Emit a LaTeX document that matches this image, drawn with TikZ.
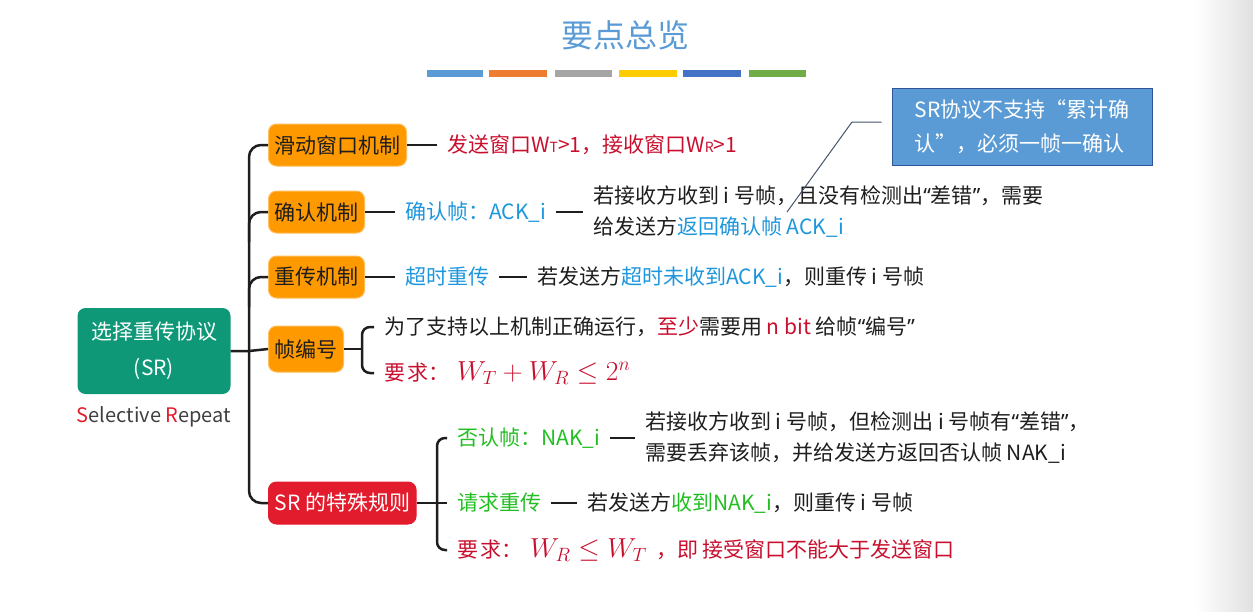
\documentclass[tikz,border=0pt]{standalone}
\usepackage{fix-cm}
\usepackage{fontspec}
\setmainfont{Noto Sans CJK SC}
\newfontfamily\latinq{Noto Sans}
\usepackage{tikz}

\definecolor{titleblue}{RGB}{91,155,213}
\definecolor{barorange}{RGB}{237,125,49}
\definecolor{bargray}{RGB}{165,165,165}
\definecolor{baryellow}{RGB}{255,204,0}
\definecolor{bardarkblue}{RGB}{68,114,196}
\definecolor{bargreen}{RGB}{112,173,71}
\definecolor{rootgreen}{RGB}{14,152,120}
\definecolor{branchorange}{RGB}{255,153,0}
\definecolor{branchrim}{RGB}{255,190,90}
\definecolor{srred}{RGB}{226,28,44}
\definecolor{textred}{RGB}{200,16,46}
\definecolor{textblue}{RGB}{30,150,220}
\definecolor{textgreen}{RGB}{34,190,34}
\definecolor{textdark}{RGB}{30,30,30}
\definecolor{calloutblue}{RGB}{91,155,213}
\definecolor{calloutrim}{RGB}{47,85,151}
\definecolor{pointer}{RGB}{68,84,106}

\newcommand{\fs}[2]{\fontsize{#1}{#2}\selectfont}
\newcommand{\oq}{{\latinq “}}
\newcommand{\cq}{{\latinq ”}}
\newcommand{\bigmath}[1]{{\fs{27.5}{31}$#1$}}
\newcommand{\yaoqiu}{要\hspace{2pt}求：\hspace{8pt}}

\begin{document}
\begin{tikzpicture}[x=1pt,y=-1pt,
    branch/.style={draw=branchrim, line width=1pt, fill=branchorange, rounded corners=8pt,
        minimum height=42pt, inner xsep=6pt, anchor=west, text=textdark, font=\fs{21}{30}},
    leaf/.style={anchor=west, inner xsep=10pt, inner ysep=2pt, align=left, text=textdark, font=\fs{21}{31}},
    link/.style={line width=2.5pt, textdark}]
        \useasboundingbox (0,0) rectangle (1253,611);
        \shade[left color=white, right color=black!12] (1195,0) rectangle (1253,611);

        % Title
        \node[text=titleblue, font=\fs{32}{36}] (title) at (625,35) {要点总览};
        \foreach \xa/\xb/\c in {427/483/titleblue, 489/547/barorange, 555/612/bargray,
                                619/677/baryellow, 683/741/bardarkblue, 749/806/bargreen}
            \fill[\c] (\xa,70) rectangle (\xb,77);

        % Root
        \node[fill=rootgreen, rounded corners=8pt, minimum width=153pt, minimum height=86pt,
              text=white, align=center, font=\fs{21}{36}] (root) at (154,351) {选择重传协议\\(SR)};
        \node[text=textdark!85, font=\fs{20}{24}] (sr) at (154,417)
            {{\color{srred}S}elective {\color{srred}R}epeat};

        % Branches
        \node[branch] (b1) at (268,145) {滑动窗口机制};
        \node[branch] (b2) at (268,212) {确认机制};
        \node[branch] (b3) at (268,277) {重传机制};
        \node[branch, minimum height=46pt] (b4) at (268,349) {帧编号};
        \node[branch, fill=srred, draw=srred, text=white] (b5) at (268,503) {SR 的特殊规则};

        % Leaves
        \node[leaf, text=textred] (l1) at (437,145)
            {发送窗口W{\fs{14}{14}T}>1，接收窗口W{\fs{14}{14}R}>1};
        \node[leaf, text=textblue] (l2a) at (395,212) {确认帧：ACK\_i};
        \node[leaf] (l2b) at (583,212)
            {若接收方收到 i 号帧，且没有检测出\oq 差错\cq，需要\\给发送方{\color{textblue}返回确认帧 ACK\_i}};
        \node[leaf, text=textblue] (l3a) at (395,277) {超时重传};
        \node[leaf] (l3b) at (527,277)
            {若发送方{\color{textblue}超时未收到ACK\_i}，则重传 i 号帧};
        \node[leaf] (l4a) at (374,327)
            {为了支持以上机制正确运行，{\color{textred}至少}需要用 {\color{textred}n bit} 给帧\oq 编号\cq};
        \node[leaf, text=textred] (l4b) at (374,373) {\yaoqiu\bigmath{W_T+W_R\le 2^n}};
        \node[leaf, text=textgreen] (l5a) at (447,438) {否认帧：NAK\_i};
        \node[leaf] (l5d) at (635,438)
            {若接收方收到 i 号帧，但检测出 i 号帧有\oq 差错\cq，\\需要丢弃该帧，并给发送方返回否认帧 NAK\_i};
        \node[leaf, text=textgreen] (l5b) at (447,503) {请求重传};
        \node[leaf] (l5e) at (577,503)
            {若发送方{\color{textgreen}收到NAK\_i}，则重传 i 号帧};
        \node[leaf, text=textred] (l5c) at (447,550)
            {\yaoqiu\bigmath{W_R\le W_T}\ \ ，即 接受窗口不能大于发送窗口};

        % Callout
        \node[fill=calloutblue, draw=calloutrim, line width=1pt, minimum width=260pt, minimum height=77pt,
              text=white, align=left, font=\fs{21}{34}] (call) at (1022,127)
            {SR协议不支持“累计确\\认”，必须一帧一确认};
        \coordinate (p1) at (852,122);
        \coordinate (p2) at (787,212);
        \draw[pointer, line width=1pt] (p2) -- (p1) -- ([xshift=-10pt,yshift=5pt]call.west);

        % Edges
        \coordinate (t) at (249,351);
        \coordinate (c4) at (362,349);
        \coordinate (c5) at (437,503);
        \draw[link] (root.east) -- (t) -- (b4.west);
        \draw[link, rounded corners=12pt] (b1.west) -| (t) |- (b5.west);
        \draw[link, rounded corners=12pt] (b2.west) -| +(-19,30);
        \draw[link, rounded corners=12pt] (b3.west) -| +(-19,30);
        \draw[link] (b1) edge (l1)
                    (b2) edge (l2a)
                    (l2a) edge (l2b)
                    (b3) edge (l3a)
                    (l3a) edge (l3b)
                    (b4) edge (c4)
                    (b5) edge (c5)
                    (c5) edge (l5b)
                    (l5a) edge (l5d)
                    (l5b) edge (l5e);
        \draw[link, rounded corners=8pt] (l4a.west) -| (c4) |- (l4b.west);
        \draw[link, rounded corners=8pt] (l5a.west) -| (c5) |- (l5c.west);
\end{tikzpicture}
\end{document}
